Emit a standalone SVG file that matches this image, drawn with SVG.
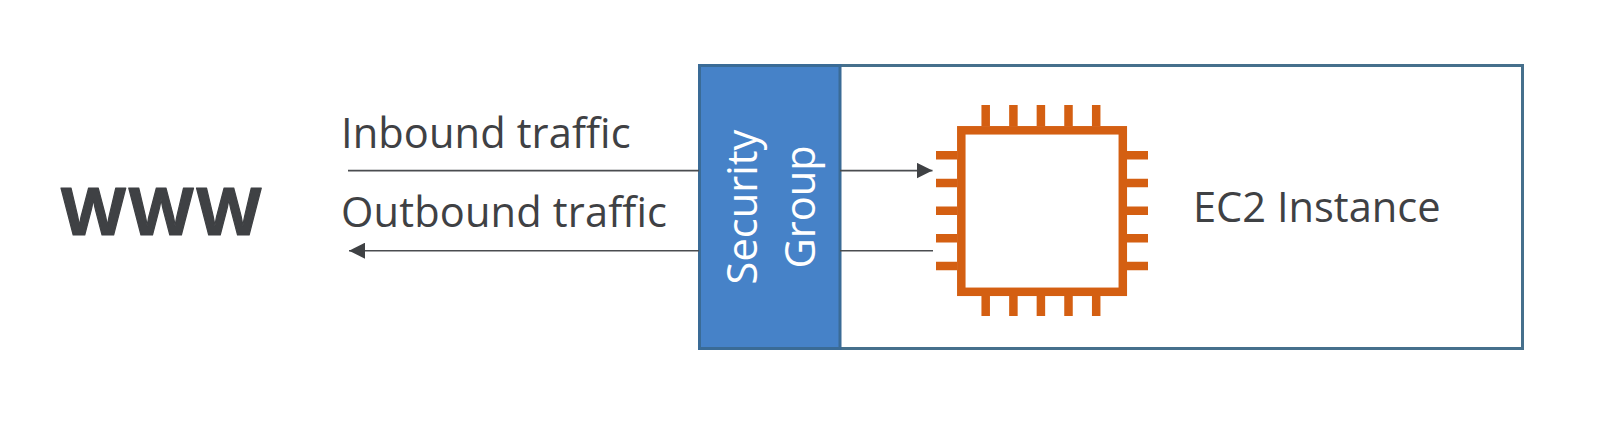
<svg xmlns="http://www.w3.org/2000/svg" width="1615" height="434" viewBox="0 0 1615 434">
<style>
text{font-family:"Open Sans","Noto Sans","Liberation Sans",sans-serif;fill:#3f4144}
.lab{font-size:41.6px}
.sg{font-size:41.6px;fill:#fff;text-anchor:middle}
.ln{stroke:#4a4d50;stroke-width:1.6;fill:none}
.chip{stroke:#d45f12;stroke-width:8.5;fill:none}
</style>
<defs><marker id="ah" markerUnits="userSpaceOnUse" markerWidth="17" markerHeight="16" refX="16" refY="8" orient="auto"><path d="M0 0L16 8L0 16Z" fill="#3f4144"/></marker></defs>
<rect width="1615" height="434" fill="#fff"/>
<g id="instance-box"><rect x="699.5" y="65.5" width="823" height="283" fill="#fff" stroke="#46708c" stroke-width="3"/></g>
<g id="security-group"><rect x="699.5" y="65.5" width="140.5" height="283" fill="#4682c8" stroke="#3a6b96" stroke-width="3"/>
<text class="sg" transform="translate(757 207) rotate(-90)">Security</text>
<text class="sg" transform="translate(815 207) rotate(-90)">Group</text></g>
<g id="ec2-instance"><rect class="chip" x="961.3" y="130.3" width="161.5" height="161.5"/>
<path class="chip" d="M985.7 105V126M1013.4 105V126M1040.9 105V126M1068.5 105V126M1096.2 105V126M985.7 296V316M1013.4 296V316M1040.9 296V316M1068.5 296V316M1096.2 296V316M936 155.3H957M936 183H957M936 210.7H957M936 238.3H957M936 266H957M1127 155.3H1148M1127 183H1148M1127 210.7H1148M1127 238.3H1148M1127 266H1148"/>
<text class="lab" x="1193" y="222">EC2 Instance</text></g>
<g id="www"><text x="61" y="235" font-size="67" font-weight="700" letter-spacing="3" stroke="#3f4144" stroke-width="1.2" stroke-linejoin="round">WWW</text></g>
<g id="labels"><text class="lab" x="341" y="147.5" letter-spacing="0.1">Inbound traffic</text>
<text class="lab" x="341" y="226.5" letter-spacing="0.15">Outbound traffic</text></g>
<g id="connectors">
<path class="ln" d="M348 170.6H699"/><path class="ln" d="M840 170.6H932.5" marker-end="url(#ah)"/>
<path class="ln" d="M933 250.7H840"/><path class="ln" d="M699 250.7H349" marker-end="url(#ah)"/>
</g>
</svg>
